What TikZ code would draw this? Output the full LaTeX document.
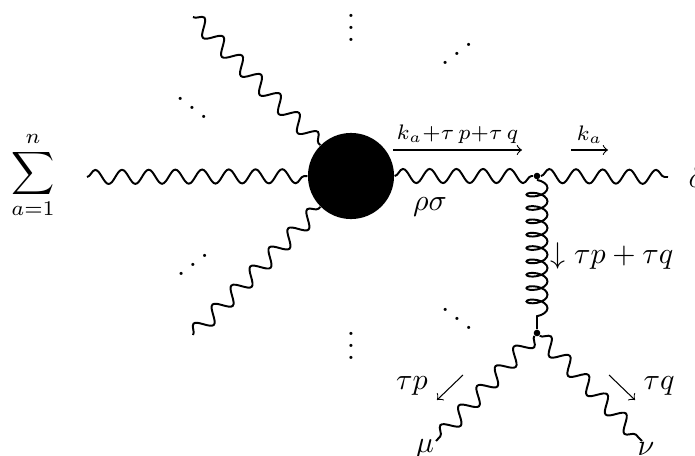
\documentclass[tikz,border=0pt]{standalone}
\usepackage{amsmath,amssymb}
\usetikzlibrary{positioning,arrows.meta,decorations.pathmorphing}
\tikzset{
  >=to,
  photon/.style={decorate,decoration={snake,segment length=8.9pt,amplitude=2.35pt},line width=0.65pt},
  photond/.style={decorate,decoration={snake,segment length=8.96pt,amplitude=2.55pt},line width=0.65pt},
  gluon/.style={decorate,decoration={coil,aspect=0.45,segment length=4.45pt,amplitude=3.5pt},line width=0.65pt},
  blob/.style={circle,fill=black,minimum size=28.7pt,inner sep=0pt},
  vtx/.style={circle,fill=black,minimum size=2.2pt,inner sep=0pt},
  mom/.style={->,line width=0.35pt},
  lbl/.style={inner sep=0pt},
}
\begin{document}
\begin{tikzpicture}[x=0.33333pt,y=-0.33333pt]
  \useasboundingbox (0,0) rectangle (695,456);
  \node[lbl] (sum) at (33,175) {$\displaystyle\sum_{a=1}^{n}$};
  \node[blob] (core) at (351,176) {};
  \node[vtx] (vtop) at (537,176) {};
  \node[vtx] (vbot) at (537,333) {};
  % outer ends
  \coordinate (inL) at (87,177);
  \coordinate (inUL) at (193,17);
  \coordinate (inDL) at (193,335);
  \coordinate (outR) at (668,177);
  \coordinate (outM) at (436,441);
  \coordinate (outN) at (642,441);
  % lines
  \draw[photon] (inL) -- (core);
  \draw[photond] (inUL) -- (core);
  \draw[photond] (inDL) -- (core);
  \draw[photon] (core) -- (vtop);
  \draw[photon] (vtop) -- (outR);
  \draw[gluon] (vtop) -- (vbot);
  \draw[photond] (vbot) -- (outM);
  \draw[photond] (vbot) -- (outN);
  % dots
  \node[lbl] (dotsT) at (351,19) {$\vdots$};
  \node[lbl] (dotsB) at (351,337) {$\vdots$};
  \node[lbl] (dotsUL) at (192,99) {$\ddots$};
  \node[lbl] (dotsUR) at (457,45) {\reflectbox{$\ddots$}};
  \node[lbl] (dotsDL) at (193,256) {\reflectbox{$\ddots$}};
  \node[lbl] (dotsDR) at (457,310) {$\ddots$};
  % momenta
  \coordinate (a1) at (393,150);
  \coordinate (a2) at (522,150);
  \coordinate (b1) at (571,150);
  \coordinate (b2) at (608,150);
  \coordinate (c1) at (463,375);
  \coordinate (c2) at (437,400);
  \coordinate (d1) at (609,375);
  \coordinate (d2) at (635,400);
  \draw[mom] (a1) -- (a2) node[lbl,midway,above=2pt] (labA) {$\scriptstyle k_a+\tau\,p+\tau\,q$};
  \draw[mom] (b1) -- (b2) node[lbl,midway,above=2pt] (labB) {$\scriptstyle k_a$};
  \draw[mom] (c1) -- (c2);
  \draw[mom] (d1) -- (d2);
  \node[lbl] (labC) at (412,386) {$\tau p$};
  \node[lbl] (labD) at (659,386) {$\tau q$};
  \node[lbl] (labE) at (612,256) {$\downarrow\tau p+\tau q$};
  \node[lbl] (rs) at (430,207) {$\rho\sigma$};
  \node[lbl,anchor=west] (de) at (688,177) {$\delta$};
  \node[lbl] (mu) at (425,449) {$\mu$};
  \node[lbl] (nu) at (646,449) {$\nu$};
\end{tikzpicture}
\end{document}
